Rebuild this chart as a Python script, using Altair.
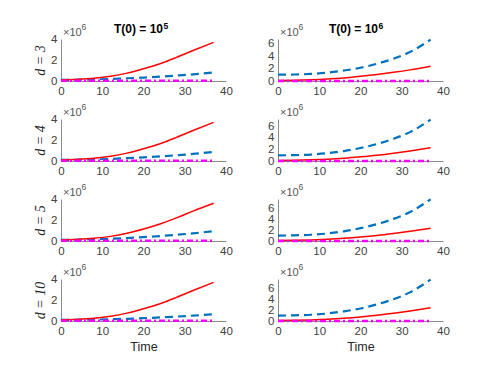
import altair as alt
import pandas as pd

# time samples
times = [0, 4, 8, 12, 16, 20, 24, 28, 32, 37]

row_labels = ["d = 3", "d = 4", "d = 5", "d = 10"]
col_titles = ["T(0) = 10", "T(0) = 10"]
col_exps = ["5", "6"]

# values in units of 1e6
# left column, T(0)=1e5
red_left = [
    [0.12, 0.17, 0.27, 0.45, 0.75, 1.17, 1.65, 2.25, 2.90, 3.68],
    [0.12, 0.17, 0.27, 0.45, 0.75, 1.17, 1.65, 2.25, 2.90, 3.68],
    [0.12, 0.17, 0.27, 0.44, 0.73, 1.14, 1.62, 2.20, 2.85, 3.60],
    [0.12, 0.17, 0.27, 0.45, 0.75, 1.17, 1.65, 2.25, 2.90, 3.68],
]
blue_left = [
    [0.10, 0.12, 0.15, 0.20, 0.26, 0.33, 0.42, 0.52, 0.63, 0.81],
    [0.10, 0.12, 0.15, 0.20, 0.27, 0.35, 0.44, 0.55, 0.67, 0.86],
    [0.10, 0.12, 0.16, 0.21, 0.28, 0.37, 0.47, 0.59, 0.73, 0.94],
    [0.10, 0.11, 0.13, 0.17, 0.21, 0.27, 0.34, 0.42, 0.51, 0.64],
]
# right column, T(0)=1e6
red_right = [
    [0.10, 0.13, 0.20, 0.32, 0.50, 0.75, 1.05, 1.40, 1.80, 2.40],
    [0.10, 0.13, 0.20, 0.31, 0.48, 0.72, 1.00, 1.35, 1.75, 2.30],
    [0.10, 0.13, 0.20, 0.32, 0.49, 0.73, 1.02, 1.38, 1.78, 2.35],
    [0.10, 0.13, 0.20, 0.32, 0.50, 0.75, 1.05, 1.42, 1.85, 2.45],
]
blue_right = [
    [1.03, 1.05, 1.15, 1.35, 1.70, 2.15, 2.80, 3.60, 4.70, 6.70],
    [0.98, 1.02, 1.12, 1.35, 1.72, 2.25, 2.95, 3.85, 5.00, 7.15],
    [1.00, 1.04, 1.15, 1.38, 1.78, 2.35, 3.10, 4.05, 5.30, 7.65],
    [1.00, 1.04, 1.15, 1.38, 1.78, 2.30, 3.05, 4.00, 5.25, 7.60],
]
magenta = [0.02, 0.02, 0.02, 0.02, 0.02, 0.02, 0.02, 0.02, 0.02, 0.02]

y_max_left = [4, 4, 4, 4]
y_max_right = [6.8, 7.27, 7.7, 7.7]
y_ticks_left = [0, 2, 4]
y_ticks_right = [0, 2, 4, 6]
x_ticks = [0, 10, 20, 30, 40]

W = 165
H = 42
TXT = "#404040"


def panel(r, c):
    red = red_left[r] if c == 0 else red_right[r]
    blue = blue_left[r] if c == 0 else blue_right[r]
    ymax = y_max_left[r] if c == 0 else y_max_right[r]
    yt = y_ticks_left if c == 0 else y_ticks_right
    rows = []
    for i, t in enumerate(times):
        rows.append({"t": t, "v": red[i], "s": "red"})
        rows.append({"t": t, "v": blue[i], "s": "blue"})
        rows.append({"t": t, "v": magenta[i], "s": "mag"})
    df = pd.DataFrame(rows)

    xaxis = alt.Axis(values=x_ticks, title="Time" if r == 3 else None,
                     titleFont="Liberation Sans", titleFontSize=12.5,
                     titleFontWeight="normal", titleColor="#262626", titlePadding=4)
    if c == 0:
        yaxis = alt.Axis(values=yt, title=row_labels[r], titleFont="Liberation Serif",
                         titleFontStyle="italic", titleFontSize=14,
                         titleFontWeight="normal", titleColor="#262626", titlePadding=3)
    else:
        yaxis = alt.Axis(values=yt, title=None)

    base = alt.Chart(df).encode(
        x=alt.X("t:Q", scale=alt.Scale(domain=[0, 40], nice=False), axis=xaxis),
        y=alt.Y("v:Q", scale=alt.Scale(domain=[0, ymax], nice=False), axis=yaxis),
    )
    blue_l = base.transform_filter(alt.datum.s == "blue").mark_line(
        color="#0072BD", strokeDash=[8, 5], strokeWidth=2.2, interpolate="monotone")
    red_l = base.transform_filter(alt.datum.s == "red").mark_line(
        color="#FF0000", strokeWidth=1.5, interpolate="monotone")
    mag_l = base.transform_filter(alt.datum.s == "mag").mark_line(
        color="#FF00FF", strokeDash=[6, 3, 2, 3], strokeWidth=2.5)

    one = pd.DataFrame({"a": ["×10"], "b": ["6"]})
    x10 = alt.Chart(one).mark_text(align="left", baseline="alphabetic", fontSize=11,
                                   font="Liberation Sans", color="#555555").encode(
        text="a:N", x=alt.value(2), y=alt.value(-3))
    x10e = alt.Chart(one).mark_text(align="left", baseline="alphabetic", fontSize=8.5,
                                    font="Liberation Sans", color="#555555").encode(
        text="b:N", x=alt.value(20.5), y=alt.value(-9.5))
    layers = [blue_l, red_l, mag_l, x10, x10e]
    if r == 0:
        tdf = pd.DataFrame({"a": [col_titles[c]], "b": [col_exps[c]]})
        tx = 102 if c == 0 else 100
        tm = alt.Chart(tdf).mark_text(align="right", baseline="alphabetic", fontSize=12,
                                      font="Liberation Sans", fontWeight="bold",
                                      color="#000000").encode(
            text="a:N", x=alt.value(tx), y=alt.value(-5.7))
        te = alt.Chart(tdf).mark_text(align="left", baseline="alphabetic", fontSize=8.5,
                                      font="Liberation Sans", fontWeight="bold",
                                      color="#000000").encode(
            text="b:N", x=alt.value(tx + 0.5), y=alt.value(-10))
        layers += [tm, te]
    return alt.layer(*layers).properties(width=W, height=H)


panels = []
for r in range(4):
    for c in range(2):
        panels.append(panel(r, c))

chart = alt.concat(*panels, columns=2, spacing={"row": 38, "column": 52},
                   bounds="flush").properties(
    padding={"left": 25, "top": 14, "right": 5, "bottom": 5}
).configure_view(stroke=None).configure_axis(
    grid=False, ticks=False, domainColor="#8c8c8c", domainWidth=1,
    labelFont="Liberation Sans", labelFontSize=11.5, labelColor=TXT, labelPadding=4,
    labelFlush=False, labelOverlap=False
)

chart.save("out.html", embed_options={"renderer": "svg", "actions": False})
